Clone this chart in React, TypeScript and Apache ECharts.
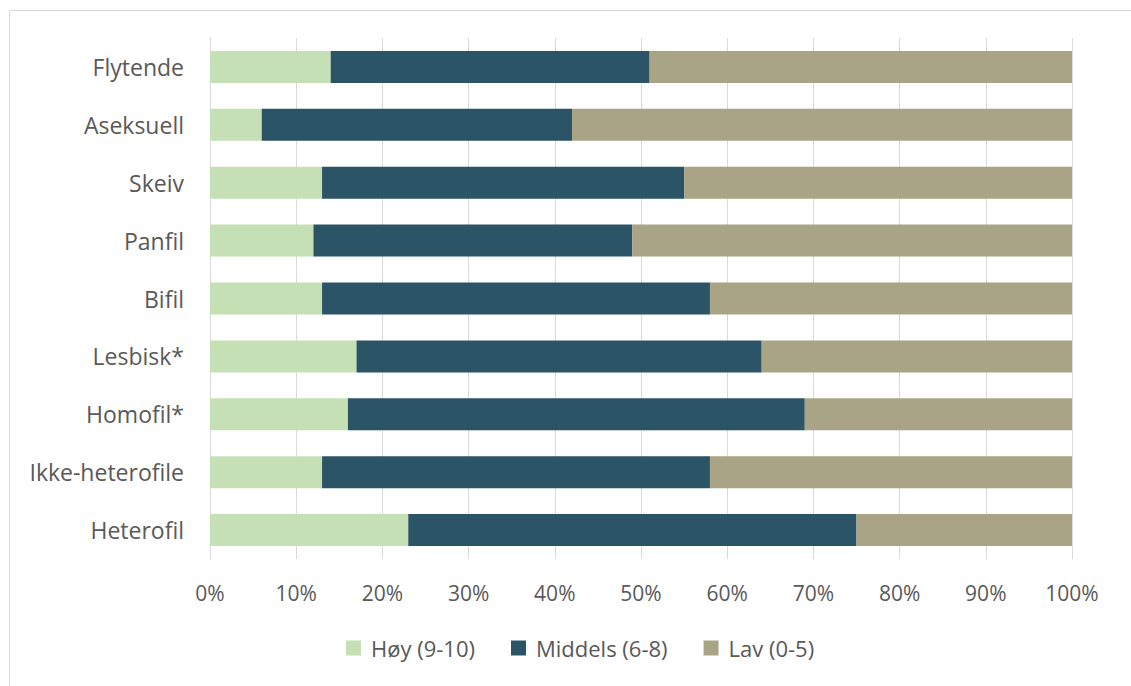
import React, { useEffect, useRef } from "react";
import * as echarts from "echarts";

const categories = [
  "Flytende",
  "Aseksuell",
  "Skeiv",
  "Panfil",
  "Bifil",
  "Lesbisk*",
  "Homofil*",
  "Ikke-heterofile",
  "Heterofil",
];
const hoy = [14, 6, 13, 12, 13, 17, 16, 13, 23];
const middels = [37, 36, 42, 37, 45, 47, 53, 45, 52];
const lav = [49, 58, 45, 51, 42, 36, 31, 42, 25];
const seriesNames = ["Høy (9-10)", "Middels (6-8)", "Lav (0-5)"];
const colors = ["#c5e0b4", "#2b5566", "#a8a485"];

const FONT = "'Open Sans', Lato, sans-serif";
const TEXT = "#595959";

export default function App() {
  const ref = useRef<HTMLDivElement>(null);
  useEffect(() => {
    if (!ref.current) return;
    const chart = echarts.init(ref.current, null, { renderer: "svg" });
    const values = [hoy, middels, lav];
    chart.setOption({
      animation: false,
      backgroundColor: "#ffffff",
      textStyle: { fontFamily: FONT },
      graphic: [
        {
          type: "rect",
          shape: { x: 9.5, y: 10.5, width: 1140, height: 700 },
          style: { fill: "none", stroke: "#d9d9d9", lineWidth: 1 },
          silent: true,
        },
      ],
      grid: { left: 210, right: 59, top: 38, bottom: 127, containLabel: false },
      legend: {
        left: 341,
        top: 632,
        itemWidth: 15,
        itemHeight: 15,
        itemGap: 36,
        icon: "rect",
        data: seriesNames,
        textStyle: { fontFamily: FONT, fontSize: 22, color: TEXT, padding: [0, 0, 0, 5] },
      },
      xAxis: {
        type: "value",
        min: 0,
        max: 100,
        interval: 10,
        axisLine: { show: false },
        axisTick: { show: false },
        splitLine: { show: true, lineStyle: { color: "#d9d9d9", width: 1 } },
        axisLabel: {
          formatter: "{value}%",
          fontFamily: FONT,
          fontSize: 21,
          color: TEXT,
          margin: 23,
        },
      },
      yAxis: {
        type: "category",
        data: categories,
        inverse: true,
        axisLine: { show: true, lineStyle: { color: "#d9d9d9" } },
        axisTick: { show: false },
        axisLabel: { fontFamily: FONT, fontSize: 23, color: TEXT, margin: 26 },
      },
      series: seriesNames.map((name, i) => ({
        name,
        type: "bar",
        stack: "total",
        barWidth: 32,
        itemStyle: { color: colors[i] },
        data: values[i],
      })),
    });
    return () => chart.dispose();
  }, []);
  return (
    <div
      ref={ref}
      style={{ position: "fixed", left: 0, top: 0, width: 1131, height: 686, background: "#fff" }}
    />
  );
}
